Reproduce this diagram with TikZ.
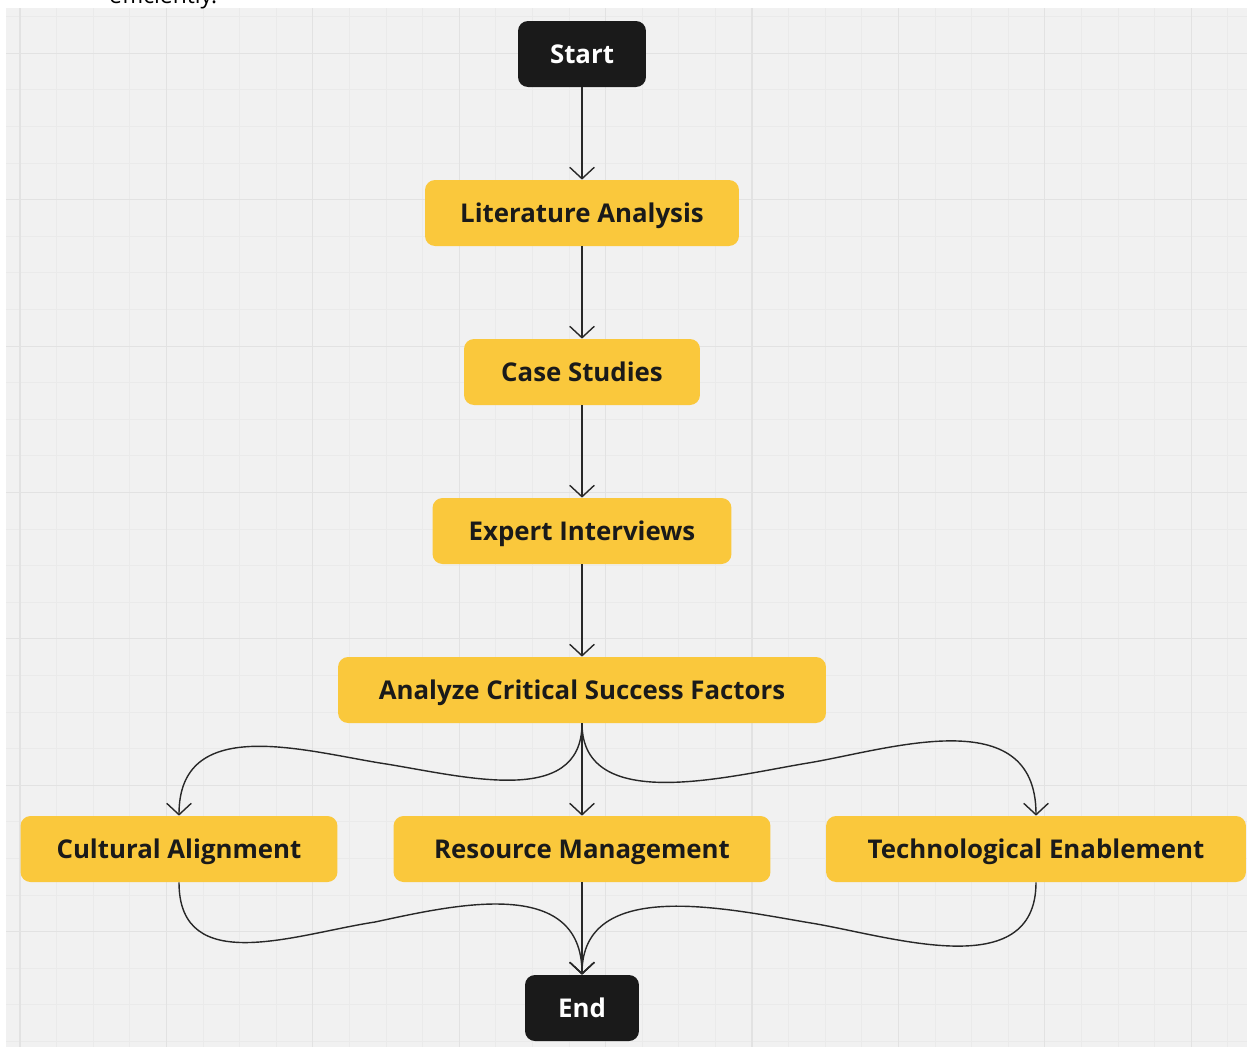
\documentclass[tikz,border=0pt]{standalone}
\usepackage{fontspec}
\setmainfont{Open Sans}
\usetikzlibrary{arrows.meta,%
                shapes,positioning}

\definecolor{miroyellow}{RGB}{250,200,60}
\definecolor{miroblack}{RGB}{26,26,26}
\definecolor{canvasgray}{RGB}{241,241,241}
\definecolor{gridminor}{RGB}{234,234,234}
\definecolor{gridmajor}{RGB}{226,226,226}
\definecolor{linkgray}{RGB}{40,40,40}

\begin{document}
\begin{tikzpicture}[x=0.02cm,y=-0.02cm,
  box/.style={rectangle, rounded corners=0.2cm, minimum height=1.32cm, inner sep=0pt,
    text height=12pt, text depth=1.5pt, font=\fontsize{14.7}{16}\selectfont\bfseries},
  stepbox/.style={box, fill=miroyellow, text=miroblack},
  termbox/.style={box, fill=miroblack, text=white},
  link/.style={draw=linkgray, line width=0.8pt, -{Straight Barb[length=6.5pt,width=14pt]}}]
\useasboundingbox (0,0) rectangle (1247,1049);
% board with grid
\fill[canvasgray] (6,8) rectangle (1247,1047);
\begin{scope}
\clip (6,8) rectangle (1247,1047);
\foreach \k in {0,...,33}
  \draw[gridminor, line width=0.5pt] (20+36.6*\k,8) -- (20+36.6*\k,1047);
\foreach \k in {-1,...,27}
  \draw[gridminor, line width=0.5pt] (6,53.3+36.6*\k) -- (1247,53.3+36.6*\k);
\foreach \k in {0,...,8}
  \draw[gridmajor, line width=0.6pt] (20+146.4*\k,8) -- (20+146.4*\k,1047);
\foreach \k in {0,...,6}
  \draw[gridmajor, line width=0.6pt] (6,53.3+146.4*\k) -- (1247,53.3+146.4*\k);
\end{scope}
\node[anchor=base west, font=\fontsize{13}{14}\selectfont] (tail) at (103,3) {efficiently.};

% steps
\node[termbox, minimum width=2.56cm] (start) at (582,54) {Start};
\node[stepbox, minimum width=6.28cm] (lit) at (582,213) {Literature Analysis};
\node[stepbox, minimum width=4.72cm] (case) at (582,372) {Case Studies};
\node[stepbox, minimum width=5.98cm] (expert) at (582,531) {Expert Interviews};
\node[stepbox, minimum width=9.76cm] (csf) at (582,690) {Analyze Critical Success Factors};
\node[stepbox, minimum width=6.34cm] (cult) at (179,849) {Cultural Alignment};
\node[stepbox, minimum width=7.54cm] (res) at (582,849) {Resource Management};
\node[stepbox, minimum width=8.40cm] (tech) at (1036,849) {Technological Enablement};
\node[termbox, minimum width=2.28cm] (end) at (582,1008) {End};

% links
\draw[link] (start) -- (lit);
\draw[link] (lit) -- (case);
\draw[link] (case) -- (expert);
\draw[link] (expert) -- (csf);
\draw[link] (csf) -- (res);
\draw[link] (res) -- (end);
\draw[link] (csf.south) .. controls (582,810) and (459,775) .. (380,763)
  .. controls (301,750) and (179,715) .. (cult.north);
\draw[link] (csf.south) .. controls (582,815) and (729,776) .. (808,763)
  .. controls (887,750) and (1036,700) .. (tech.north);
\draw[link] (cult.south) .. controls (179,978) and (296,934) .. (375,922)
  .. controls (454,905) and (582,875) .. (end.north);
\draw[link] (tech.south) .. controls (1036,985) and (890,936) .. (811,923)
  .. controls (732,910) and (582,875) .. (end.north);
\end{tikzpicture}
\end{document}
